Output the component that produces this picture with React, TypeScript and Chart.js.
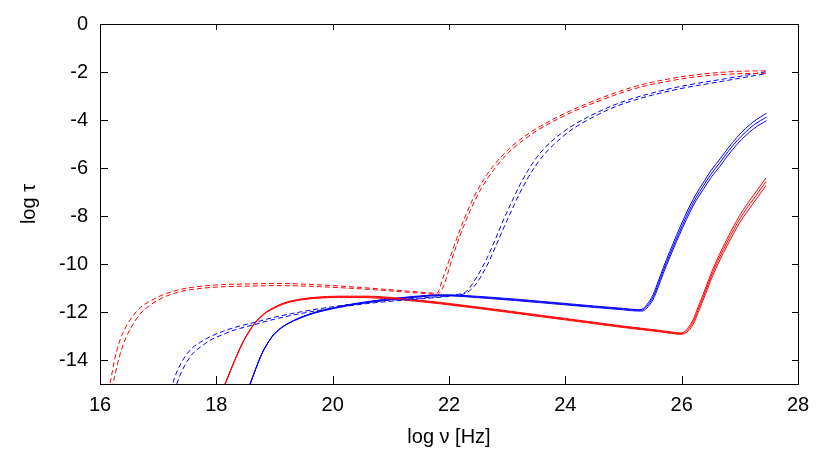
import React, { useEffect, useRef } from "react";
import { Chart, registerables } from "chart.js";

Chart.register(...registerables);

const xTicks = [16, 18, 20, 22, 24, 26, 28];
const yTicks = [-14, -12, -10, -8, -6, -4, -2, 0];
const xTitle = "log ν [Hz]";
const yTitle = "log τ";

// Red dashed pair
const redDashX = [16.1, 16.17, 16.25, 16.34, 16.45, 16.57, 16.7, 16.86, 17.0, 17.15, 17.4, 17.72, 18.1, 18.58, 19.04, 19.5, 20.0, 20.5, 20.87, 21.3, 21.65, 21.79, 21.9, 22.07, 22.2, 22.36, 22.5, 22.65, 22.8, 22.93, 23.1, 23.3, 23.5, 23.79, 24.1, 24.37, 24.65, 24.94, 25.2, 25.5, 25.8, 26.1, 26.5, 27.0, 27.45];
const redDashA = [-15.6, -15, -14.0, -13.2, -12.6, -12.15, -11.8, -11.55, -11.37, -11.22, -11.05, -10.93, -10.86, -10.83, -10.81, -10.84, -10.9, -10.98, -11.05, -11.13, -11.2, -11.22, -10.55, -9.37, -8.5, -7.56, -6.88, -6.28, -5.8, -5.45, -5.05, -4.68, -4.36, -3.97, -3.6, -3.32, -3.05, -2.8, -2.6, -2.42, -2.28, -2.16, -2.05, -1.97, -1.95];
const redDashB = [-16.5, -15.7, -14.7, -13.8, -13.05, -12.5, -12.05, -11.72, -11.5, -11.33, -11.14, -11.02, -10.95, -10.92, -10.9, -10.92, -10.97, -11.04, -11.1, -11.18, -11.24, -11.27, -10.95, -9.65, -8.75, -7.8, -7.1, -6.48, -5.98, -5.6, -5.18, -4.8, -4.46, -4.06, -3.69, -3.41, -3.14, -2.89, -2.69, -2.51, -2.37, -2.25, -2.14, -2.07, -2.05];

// Blue dashed pair
const blueDashX = [17.2, 17.25, 17.32, 17.4, 17.5, 17.6, 17.72, 17.9, 18.1, 18.29, 18.63, 19.0, 19.44, 20.0, 20.59, 21.2, 21.73, 22.1, 22.3, 22.45, 22.65, 22.8, 22.93, 23.08, 23.22, 23.37, 23.51, 23.65, 23.79, 24.08, 24.37, 24.65, 24.94, 25.5, 26.09, 26.5, 26.95, 27.45];
const blueDashA = [-15.6, -15, -14.5, -14.1, -13.73, -13.47, -13.27, -13.02, -12.82, -12.66, -12.45, -12.22, -12.0, -11.78, -11.6, -11.47, -11.38, -11.28, -11.14, -10.65, -9.77, -8.95, -8.2, -7.4, -6.7, -6.05, -5.55, -5.15, -4.83, -4.3, -3.9, -3.57, -3.28, -2.87, -2.55, -2.38, -2.2, -1.99];
const blueDashB = [-16.3, -15.6, -15.0, -14.5, -14.05, -13.72, -13.47, -13.17, -12.95, -12.77, -12.54, -12.3, -12.07, -11.84, -11.65, -11.51, -11.41, -11.31, -11.2, -10.88, -10.08, -9.28, -8.55, -7.75, -7.03, -6.36, -5.83, -5.4, -5.05, -4.45, -4.02, -3.67, -3.37, -2.96, -2.64, -2.47, -2.28, -2.07];

// Red solid triple
const redSolidX = [18.1, 18.15, 18.25, 18.35, 18.46, 18.55, 18.64, 18.75, 18.87, 19.0, 19.15, 19.45, 19.73, 20.1, 20.59, 21.16, 21.85, 23.0, 24.0, 24.94, 25.63, 25.85, 25.97, 26.05, 26.12, 26.2, 26.28, 26.37, 26.45, 26.54, 26.66, 26.78, 26.9, 27.0, 27.12, 27.23, 27.35, 27.45];
const redSolidA = [-15.3, -15, -14.4, -13.82, -13.24, -12.85, -12.52, -12.22, -11.98, -11.8, -11.63, -11.46, -11.38, -11.34, -11.34, -11.43, -11.6, -11.95, -12.27, -12.57, -12.77, -12.84, -12.87, -12.82, -12.62, -12.3, -11.8, -11.26, -10.75, -10.19, -9.55, -8.96, -8.4, -7.97, -7.52, -7.15, -6.75, -6.41];
const redSolidB = [-15.3, -15, -14.4, -13.82, -13.24, -12.86, -12.53, -12.23, -11.99, -11.82, -11.65, -11.48, -11.41, -11.37, -11.37, -11.46, -11.63, -11.98, -12.3, -12.6, -12.8, -12.87, -12.9, -12.86, -12.7, -12.4, -11.92, -11.38, -10.87, -10.32, -9.68, -9.1, -8.55, -8.12, -7.68, -7.31, -6.91, -6.57];
const redSolidC = [-15.3, -15, -14.4, -13.83, -13.25, -12.87, -12.54, -12.25, -12.0, -11.84, -11.67, -11.5, -11.43, -11.39, -11.4, -11.49, -11.66, -12.01, -12.33, -12.63, -12.83, -12.9, -12.93, -12.9, -12.78, -12.5, -12.04, -11.5, -11.0, -10.45, -9.82, -9.24, -8.7, -8.27, -7.84, -7.47, -7.07, -6.73];

// Blue solid triple
const blueSolidX = [18.55, 18.58, 18.68, 18.78, 18.88, 18.98, 19.1, 19.21, 19.44, 19.7, 20.01, 20.4, 20.87, 21.4, 21.85, 22.7, 23.56, 24.5, 25.0, 25.24, 25.32, 25.4, 25.51, 25.6, 25.68, 25.8, 25.91, 26.02, 26.14, 26.25, 26.37, 26.5, 26.66, 26.8, 26.95, 27.1, 27.23, 27.35, 27.46];
const blueSolidA = [-15.2, -15, -14.35, -13.75, -13.3, -12.95, -12.68, -12.5, -12.23, -12.01, -11.82, -11.64, -11.48, -11.35, -11.28, -11.38, -11.55, -11.75, -11.85, -11.9, -11.88, -11.7, -11.27, -10.7, -10.18, -9.45, -8.81, -8.2, -7.58, -7.08, -6.62, -6.12, -5.62, -5.17, -4.72, -4.35, -4.08, -3.88, -3.72];
const blueSolidB = [-15.2, -15, -14.35, -13.75, -13.31, -12.96, -12.69, -12.51, -12.24, -12.02, -11.84, -11.66, -11.5, -11.37, -11.3, -11.41, -11.58, -11.78, -11.88, -11.93, -11.92, -11.77, -11.37, -10.82, -10.3, -9.58, -8.95, -8.34, -7.72, -7.22, -6.76, -6.27, -5.77, -5.31, -4.87, -4.5, -4.23, -4.03, -3.88];
const blueSolidC = [-15.2, -15, -14.36, -13.76, -13.32, -12.97, -12.7, -12.52, -12.26, -12.04, -11.86, -11.68, -11.52, -11.39, -11.32, -11.44, -11.61, -11.81, -11.91, -11.96, -11.96, -11.84, -11.47, -10.94, -10.42, -9.7, -9.07, -8.47, -7.85, -7.35, -6.9, -6.41, -5.92, -5.46, -5.02, -4.65, -4.38, -4.18, -4.03];

const RED = "#ff0000";
const BLUE = "#0000ff";

const series: { xs: number[]; ys: number[]; color: string; dash: boolean }[] = [
  { xs: redDashX, ys: redDashA, color: RED, dash: true },
  { xs: redDashX, ys: redDashB, color: RED, dash: true },
  { xs: blueDashX, ys: blueDashA, color: BLUE, dash: true },
  { xs: blueDashX, ys: blueDashB, color: BLUE, dash: true },
  { xs: redSolidX, ys: redSolidA, color: RED, dash: false },
  { xs: redSolidX, ys: redSolidB, color: RED, dash: false },
  { xs: redSolidX, ys: redSolidC, color: RED, dash: false },
  { xs: blueSolidX, ys: blueSolidA, color: BLUE, dash: false },
  { xs: blueSolidX, ys: blueSolidB, color: BLUE, dash: false },
  { xs: blueSolidX, ys: blueSolidC, color: BLUE, dash: false },
];

const FONT = "'Liberation Sans', Arial, Helvetica, sans-serif";

const framePlugin = {
  id: "gnuFrame",
  afterDatasetsDraw(chart: any) {
    const { ctx, chartArea } = chart;
    const { left, right, top, bottom } = chartArea;
    const xs = chart.scales.x;
    const ys = chart.scales.y;
    ctx.save();
    ctx.strokeStyle = "#000";
    ctx.lineWidth = 1;
    ctx.beginPath();
    for (const v of xTicks) {
      const px = Math.round(xs.getPixelForValue(v)) + 0.5;
      ctx.moveTo(px, bottom);
      ctx.lineTo(px, bottom - 8);
      ctx.moveTo(px, top);
      ctx.lineTo(px, top + 6);
    }
    for (const v of yTicks) {
      const py = Math.round(ys.getPixelForValue(v)) + 0.5;
      ctx.moveTo(left, py);
      ctx.lineTo(left + 8, py);
      ctx.moveTo(right, py);
      ctx.lineTo(right - 6, py);
    }
    ctx.stroke();
    ctx.strokeRect(Math.round(left) + 0.5, Math.round(top) + 0.5, Math.round(right - left), Math.round(bottom - top));
    ctx.restore();
  },
};

export default function App() {
  const ref = useRef<HTMLCanvasElement | null>(null);
  useEffect(() => {
    if (!ref.current) return;
    const chart = new Chart(ref.current, {
      type: "line",
      data: {
        datasets: series.map((s) => ({
          data: s.xs.map((x, i) => ({ x, y: s.ys[i] })),
          borderColor: s.color,
          backgroundColor: s.color,
          borderWidth: 1,
          borderDash: s.dash ? [5, 3] : [],
          pointRadius: 0,
          fill: false,
          cubicInterpolationMode: "monotone" as const,
        })),
      },
      options: {
        animation: false,
        responsive: false,
        events: [],
        layout: { padding: { left: 0, right: 32, top: 19, bottom: 0 } },
        plugins: { legend: { display: false }, tooltip: { enabled: false } },
        scales: {
          x: {
            type: "linear",
            min: 16,
            max: 28,
            afterBuildTicks: (scale: any) => {
              scale.ticks = xTicks.map((v) => ({ value: v }));
            },
            afterFit: (scale: any) => {
              scale.height = 67;
            },
            grid: { display: false, drawTicks: false },
            border: { display: false },
            ticks: {
              padding: 9,
              color: "#000",
              font: { family: FONT, size: 20 },
              maxRotation: 0,
              callback: (v: any) => String(v),
            },
            title: {
              display: true,
              text: xTitle,
              color: "#000",
              font: { family: FONT, size: 20 },
              padding: { top: 0, bottom: 2 },
            },
          },
          y: {
            type: "linear",
            min: -15,
            max: 0,
            afterBuildTicks: (scale: any) => {
              scale.ticks = yTicks.map((v) => ({ value: v }));
            },
            afterFit: (scale: any) => {
              scale.width = 100;
            },
            grid: { display: false, drawTicks: false },
            border: { display: false },
            ticks: {
              padding: 12,
              color: "#000",
              font: { family: FONT, size: 20 },
              callback: (v: any) => String(v),
            },
            title: {
              display: true,
              text: yTitle,
              color: "#000",
              font: { family: FONT, size: 20 },
              padding: { top: 17, bottom: 0 },
            },
          },
        },
      },
      plugins: [framePlugin],
    } as any);
    return () => chart.destroy();
  }, []);
  return (
    <div style={{ position: "fixed", left: 0, top: 0, width: 830, height: 451, background: "#fff" }}>
      <canvas ref={ref} width={830} height={451} style={{ display: "block", width: 830, height: 451 }} />
    </div>
  );
}
